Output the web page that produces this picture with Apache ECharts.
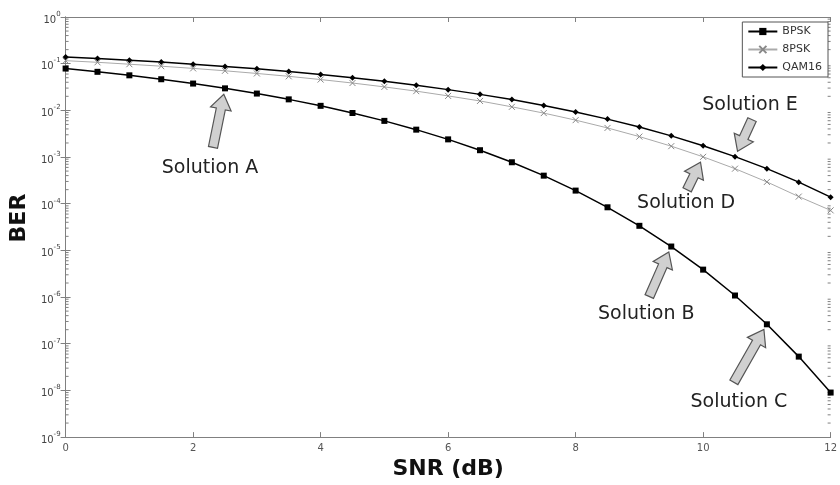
<!DOCTYPE html>
<html>
<head>
<meta charset="utf-8">
<script src="https://cdn.jsdelivr.net/npm/echarts@6/dist/echarts.min.js"></script>
<style>html,body{margin:0;padding:0;background:#fff;}#c{width:840px;height:485px;}</style>
</head>
<body>
<div id="c"></div>
<script>
// ---- data ----
const snr = [0,0.5,1,1.5,2,2.5,3,3.5,4,4.5,5,5.5,6,6.5,7,7.5,8,8.5,9,9.5,10,10.5,11,11.5,12];
const bpsk = [7.87e-2,6.69e-2,5.63e-2,4.64e-2,3.75e-2,2.96e-2,2.29e-2,1.72e-2,1.25e-2,8.78e-3,5.95e-3,3.86e-3,2.39e-3,1.40e-3,7.73e-4,3.99e-4,1.91e-4,8.38e-5,3.36e-5,1.21e-5,3.87e-6,1.08e-6,2.61e-7,5.3e-8,9.0e-9];
const psk8 = [0.116,0.107,0.0974,0.0883,0.0792,0.0704,0.0617,0.0536,0.0457,0.0385,0.0318,0.0258,0.0204,0.0159,0.0119,8.73e-3,6.17e-3,4.20e-3,2.74e-3,1.71e-3,1.01e-3,5.63e-4,2.93e-4,1.42e-4,7.2e-5];
const qam16 = [0.139,0.129,0.118,0.108,0.0975,0.0872,0.0774,0.0677,0.0586,0.0498,0.0418,0.0345,0.0278,0.0220,0.0170,0.0127,9.24e-3,6.49e-3,4.38e-3,2.84e-3,1.75e-3,1.02e-3,5.64e-4,2.90e-4,1.38e-4];
const seriesNames = ['BPSK','8PSK','QAM16'];
const xTickLabels = ['0','2','4','6','8','10','12'];
const yExponents = [0,-1,-2,-3,-4,-5,-6,-7,-8,-9];
const minorMantissas = [2,3,4,5,6,7,8,9];
const annotations = [
  {text:'Solution A', series:'BPSK', snr:2.5},
  {text:'Solution B', series:'BPSK', snr:9.5},
  {text:'Solution C', series:'BPSK', snr:11},
  {text:'Solution D', series:'8PSK', snr:10},
  {text:'Solution E', series:'QAM16', snr:10.5}
];
// ---- layout (pixel offsets of arrow tail and label from the pointed marker) ----
const annLayout = {
  'Solution A': {tail:[-12,59], label:[-15,80]},
  'Solution B': {tail:[-22,50], label:[-25,68]},
  'Solution C': {tail:[-33,58], label:[-28,78]},
  'Solution D': {tail:[-16,33], label:[-17,46]},
  'Solution E': {tail:[17,-37], label:[15,-52]}
};

const seriesData = {'BPSK': bpsk, '8PSK': psk8, 'QAM16': qam16};
const pair = arr => snr.map((x,i)=>[x, arr[i]]);
const annData = annotations.map(a => [a.snr, seriesData[a.series][snr.indexOf(a.snr)]]);
const minorVals = [];
yExponents.forEach(e => { minorMantissas.forEach(m => { const v = m * Math.pow(10, e - 1); if (v >= 1e-9 && v <= 1) minorVals.push([0, v]); }); });

const FONT = 'DejaVu Sans';
const AX = '#808080';
const chart = echarts.init(document.getElementById('c'), null, {renderer:'canvas'});

const yLabel = {
  margin: 5,
  formatter: v => { const e = Math.round(Math.log10(v)); return yExponents.indexOf(e) >= 0 ? '{b|10}{s|' + e + '}' : ''; },
  rich: {
    b: {fontSize:10, fontFamily:FONT, color:'#444', padding:[6,0,0,0]},
    s: {fontSize:7, fontFamily:FONT, color:'#444', padding:[0,0,6,0]}
  }
};

chart.setOption({
  animation:false,
  backgroundColor:'#fff',
  grid:{left:63, right:8, top:17, bottom:47, containLabel:false},
  legend:{
    data:seriesNames, orient:'vertical', right:12, top:22,
    itemWidth:29, itemHeight:9, itemGap:7, padding:[4,6,4,5],
    borderColor:'#555', borderWidth:1, backgroundColor:'#fff',
    textStyle:{fontSize:11, color:'#333', fontFamily:FONT}
  },
  xAxis:[
    {type:'value', min:0, max:12, interval:2, position:'bottom',
     name:'SNR (dB)', nameLocation:'middle', nameGap:17,
     nameTextStyle:{fontSize:22, fontWeight:'bold', fontFamily:FONT, color:'#111'},
     axisLine:{lineStyle:{color:AX, width:1}},
     axisTick:{inside:true, length:5, lineStyle:{color:AX}},
     axisLabel:{margin:6, fontSize:10, fontFamily:FONT, color:'#555', formatter: v => xTickLabels[v/2]},
     splitLine:{show:false}},
    {type:'value', min:0, max:12, interval:2, position:'top',
     axisLine:{lineStyle:{color:AX, width:1}},
     axisTick:{inside:true, length:5, lineStyle:{color:AX}},
     axisLabel:{show:false}, splitLine:{show:false}}
  ],
  yAxis:[
    {type:'log', logBase:10, min:1e-9, max:1, splitNumber:9, position:'left',
     name:'BER', nameLocation:'middle', nameGap:35, nameRotate:90,
     nameTextStyle:{fontSize:22, fontWeight:'bold', fontFamily:FONT, color:'#111', padding:[0,0,0,18]},
     axisLine:{show:true, lineStyle:{color:AX, width:1}},
     axisTick:{show:true, inside:true, length:5, lineStyle:{color:AX}},
     axisLabel:yLabel, splitLine:{show:false}, minorTick:{show:false}},
    {type:'log', logBase:10, min:1e-9, max:1, splitNumber:9, position:'right',
     axisLine:{show:true, lineStyle:{color:AX, width:1}},
     axisTick:{show:true, inside:true, length:5, lineStyle:{color:AX}},
     axisLabel:{show:false}, splitLine:{show:false}}
  ],
  series:[
    {name:'BPSK', type:'line', data:pair(bpsk), symbol:'rect', symbolSize:6,
     lineStyle:{color:'#000', width:1.5}, itemStyle:{color:'#000'}, z:4},
    {name:'8PSK', type:'line', data:pair(psk8), symbol:'path://M0,0L10,10M10,0L0,10', symbolSize:6,
     lineStyle:{color:'#aaaaaa', width:1}, itemStyle:{color:'#888', borderColor:'#888', borderWidth:1}, z:3},
    {name:'QAM16', type:'line', data:pair(qam16), symbol:'diamond', symbolSize:6,
     lineStyle:{color:'#000', width:1.5}, itemStyle:{color:'#000'}, z:4},
    {name:'minorTicks', type:'custom', data:minorVals, silent:true, clip:false, z:2,
     renderItem:(params, api) => {
       const v = api.value(1);
       const p = api.coord([0, v]); const q = api.coord([12, v]);
       return {type:'group', children:[
         {type:'line', shape:{x1:p[0], y1:p[1], x2:p[0]+3, y2:p[1]}, style:{stroke:AX, lineWidth:1}},
         {type:'line', shape:{x1:q[0], y1:q[1], x2:q[0]-3, y2:q[1]}, style:{stroke:AX, lineWidth:1}}
       ]};
     }},
    {name:'annotations', type:'custom', data:annData, silent:true, clip:false, z:10,
     renderItem:(params, api) => {
       const a = annotations[params.dataIndex];
       const L = annLayout[a.text];
       const pt = api.coord([api.value(0), api.value(1)]);
       const tail = [pt[0]+L.tail[0], pt[1]+L.tail[1]];
       let dx = pt[0]-tail[0], dy = pt[1]-tail[1];
       const len = Math.hypot(dx, dy); dx/=len; dy/=len;
       const nx = -dy, ny = dx;
       const gap = 6, H = 15, hw = 10.5, sw = 4.6;
       const tip = [pt[0]-dx*gap, pt[1]-dy*gap];
       const base = [tip[0]-dx*H, tip[1]-dy*H];
       const pts = [
         tip,
         [base[0]+nx*hw, base[1]+ny*hw],
         [base[0]+nx*sw, base[1]+ny*sw],
         [tail[0]+nx*sw, tail[1]+ny*sw],
         [tail[0]-nx*sw, tail[1]-ny*sw],
         [base[0]-nx*sw, base[1]-ny*sw],
         [base[0]-nx*hw, base[1]-ny*hw]
       ];
       return {type:'group', children:[
         {type:'polygon', shape:{points:pts}, style:{fill:'#d0d0d0', stroke:'#555', lineWidth:1.2}},
         {type:'text', style:{text:a.text, x:pt[0]+L.label[0], y:pt[1]+L.label[1], align:'center', verticalAlign:'middle',
           fontSize:19, fontFamily:FONT, fill:'#222'}}
       ]};
     }}
  ]
});
</script>
</body>
</html>
